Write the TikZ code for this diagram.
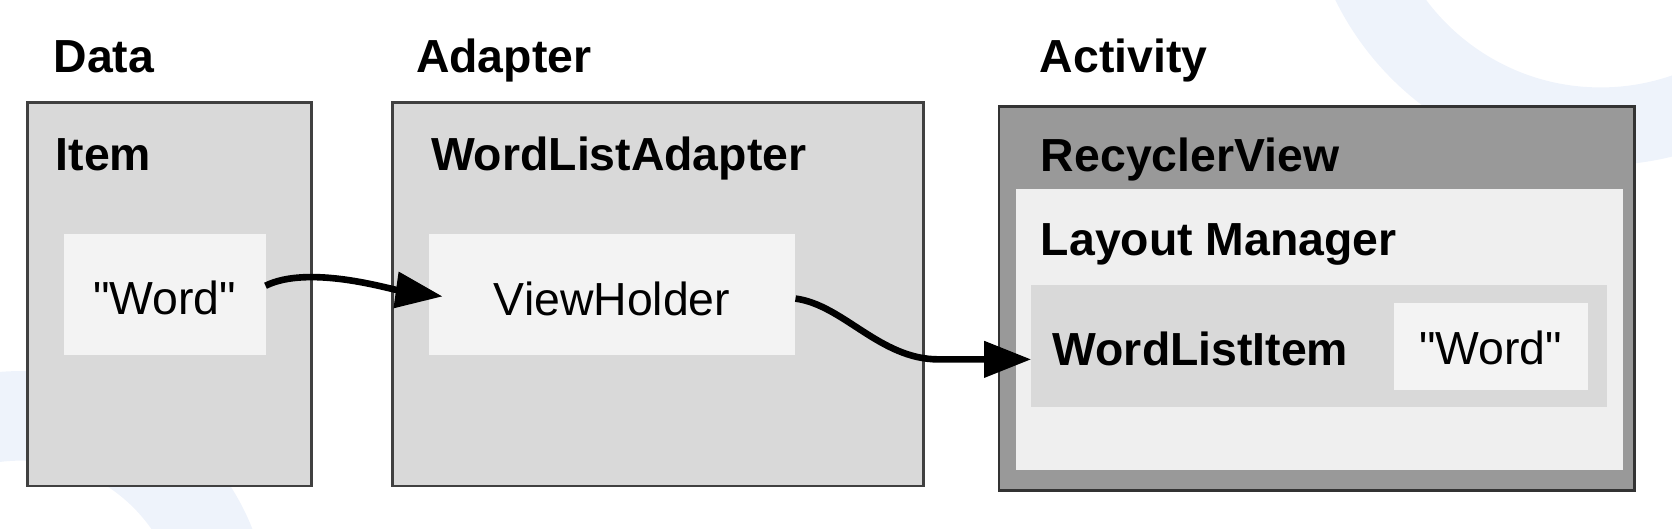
\documentclass[tikz,border=0pt]{standalone}
\usepackage{fontspec}
\setmainfont{Liberation Sans}
\newfontfamily\qfont{Liberation Sans}
\usetikzlibrary{arrows.meta}
\definecolor{boxgray}{HTML}{D9D9D9}
\definecolor{lightfill}{HTML}{F3F3F3}
\definecolor{lmfill}{HTML}{EFEFEF}
\definecolor{darkfill}{HTML}{999999}
\definecolor{bordergray}{HTML}{404040}
\definecolor{bgblue}{HTML}{EEF3FB}
\begin{document}
\begin{tikzpicture}[x=1pt,y=-1pt,
  outerbox/.style={draw=bordergray, line width=2.3pt, fill=boxgray, anchor=north west, inner sep=0pt, outer sep=0pt},
  actbox/.style={draw=bordergray!80!black, line width=2.3pt, fill=darkfill, anchor=north west, inner sep=0pt, outer sep=0pt},
  panel/.style={fill=#1, anchor=north west, inner sep=0pt, outer sep=0pt},
  title/.style={font=\fontsize{43.5}{50}\selectfont\bfseries, inner sep=0pt, anchor=base west},
  plain/.style={font=\fontsize{43.5}{50}\selectfont, inner sep=0pt, anchor=base},
  conn/.style={line width=6.2pt, -{Triangle[length=44pt,width=33pt]}}
]
\useasboundingbox (0,0) rectangle (1568,495.2);
\begin{scope}
  \clip (0,0) rectangle (1568,495.2);
  \fill[bgblue, even odd rule] (1501,-122) circle (277pt) (1501,-122) circle (204pt);
  \fill[bgblue, even odd rule] (19,582) circle (234pt) (19,582) circle (150pt);
\end{scope}

% Data column
\node[title] (datalbl) at (50,68) {Data};
\node[outerbox, minimum width=266pt, minimum height=360pt] (databox) at (26,96) {};
\node[title] (itemlbl) at (52,160) {Item};
\node[panel=lightfill, minimum width=189pt, minimum height=114pt] (wordbox) at (60,219) {};
\node[plain] (wordtxt) at (154.5,295) {\qfont "Word"};

% Adapter column
\node[title] (adaptlbl) at (390,68) {Adapter};
\node[outerbox, minimum width=498pt, minimum height=360pt] (adaptbox) at (368,96) {};
\node[title] (wlalbl) at (404,160) {WordListAdapter};
\node[panel=lightfill, minimum width=344pt, minimum height=114pt] (vhbox) at (402,219) {};
\node[plain] (vhtxt) at (574,296) {ViewHolder};

% Activity column
\node[title] (actlbl) at (975,68) {Activity};
\node[actbox, minimum width=596pt, minimum height=360pt] (actbox) at (937,100) {};
\node[title] (rvlbl) at (976,161) {RecyclerView};
\node[panel=lmfill, minimum width=569pt, minimum height=264pt] (lmbox) at (953,177) {};
\node[title] (lmlbl) at (976,240) {Layout Manager};
\node[panel=boxgray, minimum width=540pt, minimum height=115pt] (wlibox) at (967,267) {};
\node[title] (wlilbl) at (987,343) {WordListItem};
\node[panel=lightfill, minimum width=182pt, minimum height=82pt] (word2box) at (1307,284) {};
\node[plain] (word2txt) at (1398,342) {\qfont "Word"};

% connectors
\draw[conn] ([yshift=8pt]wordbox.east) .. controls +(40,-20) and +(-50,-7) .. ([xshift=13pt,yshift=-2pt]vhbox.west);
\draw[conn] ([yshift=-4pt]vhbox.east) .. controls +(45,6) and +(-55,0) .. ([yshift=-12.5pt]wlibox.west -| 880,0) -- ([yshift=-12.5pt]wlibox.west);
\end{tikzpicture}
\end{document}
